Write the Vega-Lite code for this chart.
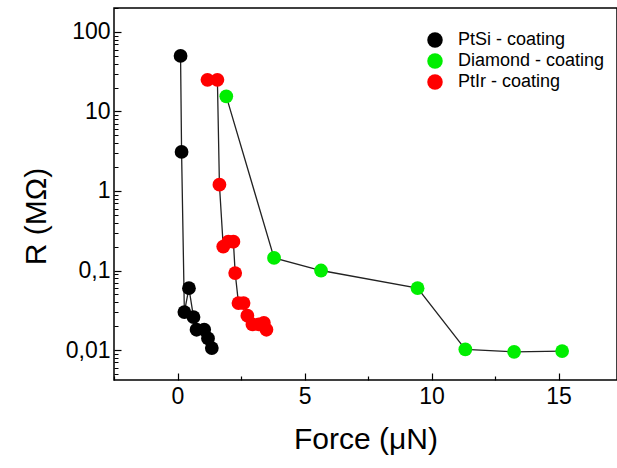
{
  "$schema": "https://vega.github.io/schema/vega-lite/v6.json",
  "width": 503,
  "height": 372,
  "autosize": "none",
  "padding": {"left": 114, "top": 8, "right": 0, "bottom": 88},
  "config": {
    "font": "Liberation Sans",
    "view": {"stroke": "#000000", "strokeWidth": 1.5}
  },
  "data": {"values": [
    {"s": "PtSi - coating", "o": 1, "f": 0.12, "r": 50},
    {"s": "PtSi - coating", "o": 2, "f": 0.16, "r": 3.1},
    {"s": "PtSi - coating", "o": 3, "f": 0.27, "r": 0.03},
    {"s": "PtSi - coating", "o": 4, "f": 0.45, "r": 0.06},
    {"s": "PtSi - coating", "o": 5, "f": 0.63, "r": 0.026},
    {"s": "PtSi - coating", "o": 6, "f": 0.75, "r": 0.018},
    {"s": "PtSi - coating", "o": 7, "f": 1.05, "r": 0.018},
    {"s": "PtSi - coating", "o": 8, "f": 1.2, "r": 0.014},
    {"s": "PtSi - coating", "o": 9, "f": 1.35, "r": 0.0106},
    {"s": "Diamond - coating", "o": 1, "f": 1.92, "r": 15.5},
    {"s": "Diamond - coating", "o": 2, "f": 3.8, "r": 0.144},
    {"s": "Diamond - coating", "o": 3, "f": 5.65, "r": 0.1},
    {"s": "Diamond - coating", "o": 4, "f": 9.45, "r": 0.06},
    {"s": "Diamond - coating", "o": 5, "f": 11.33, "r": 0.0102},
    {"s": "Diamond - coating", "o": 6, "f": 13.25, "r": 0.0095},
    {"s": "Diamond - coating", "o": 7, "f": 15.14, "r": 0.0097},
    {"s": "PtIr - coating", "o": 1, "f": 1.18, "r": 25},
    {"s": "PtIr - coating", "o": 2, "f": 1.57, "r": 25},
    {"s": "PtIr - coating", "o": 3, "f": 1.65, "r": 1.2},
    {"s": "PtIr - coating", "o": 4, "f": 1.8, "r": 0.2},
    {"s": "PtIr - coating", "o": 5, "f": 2.0, "r": 0.23},
    {"s": "PtIr - coating", "o": 6, "f": 2.2, "r": 0.23},
    {"s": "PtIr - coating", "o": 7, "f": 2.27, "r": 0.093},
    {"s": "PtIr - coating", "o": 8, "f": 2.4, "r": 0.039},
    {"s": "PtIr - coating", "o": 9, "f": 2.6, "r": 0.039},
    {"s": "PtIr - coating", "o": 10, "f": 2.75, "r": 0.027},
    {"s": "PtIr - coating", "o": 11, "f": 2.95, "r": 0.021},
    {"s": "PtIr - coating", "o": 12, "f": 3.2, "r": 0.021},
    {"s": "PtIr - coating", "o": 13, "f": 3.4, "r": 0.022},
    {"s": "PtIr - coating", "o": 14, "f": 3.5, "r": 0.018}
  ]},
  "layer": [
    {
      "mark": {"type": "point", "opacity": 0},
      "encoding": {
        "x": {"field": "f", "type": "quantitative", "scale": {"domain": [-2.5, 17.3], "nice": false, "zero": false},
          "axis": {"values": [-2.5, 2.5, 7.5, 12.5, 17.5], "labels": false, "title": null, "domain": false, "grid": false, "tickSize": -4, "tickColor": "#000", "tickWidth": 1.2, "orient": "bottom"}},
        "y": {"field": "r", "type": "quantitative", "scale": {"type": "log", "domain": [0.0042, 200], "nice": false},
          "axis": {"values": [0.005,0.006,0.007,0.008,0.009,0.02,0.03,0.04,0.05,0.06,0.07,0.08,0.09,0.2,0.3,0.4,0.5,0.6,0.7,0.8,0.9,2,3,4,5,6,7,8,9,20,30,40,50,60,70,80,90,200],
            "labels": false, "title": null, "domain": false, "grid": false, "tickSize": -4, "tickColor": "#000", "tickWidth": 1, "orient": "left"}}
      }
    },
    {
      "mark": {"type": "line", "color": "#222222", "strokeWidth": 1.3},
      "encoding": {
        "x": {"field": "f", "type": "quantitative",
          "axis": {"values": [0, 5, 10, 15], "title": "Force (\u03bcN)", "domain": false, "grid": false, "tickSize": -7, "tickColor": "#000", "tickWidth": 1.2, "labelFontSize": 23, "labelColor": "#000", "labelPadding": 12, "titleFontSize": 30, "titleFontWeight": "normal", "titleColor": "#000", "titlePadding": 16, "orient": "bottom"}},
        "y": {"field": "r", "type": "quantitative",
          "axis": {"values": [0.01, 0.1, 1, 10, 100], "labelExpr": "replace(datum.value >= 1 ? format(datum.value, 'd') : format(datum.value, '~g'), '.', ',')", "title": "R (M\u03a9)", "titleY": 208, "domain": false, "grid": false, "tickSize": -7, "tickColor": "#000", "tickWidth": 1.2, "labelFontSize": 23, "labelColor": "#000", "labelPadding": 11, "titleFontSize": 30, "titleFontWeight": "normal", "titleColor": "#000", "titlePadding": 14, "orient": "left"}},
        "detail": {"field": "s"},
        "order": {"field": "o", "type": "quantitative"}
      }
    },
    {
      "mark": {"type": "circle", "size": 190, "opacity": 1},
      "encoding": {
        "x": {"field": "f", "type": "quantitative", "axis": null},
        "y": {"field": "r", "type": "quantitative", "axis": null},
        "color": {"field": "s", "type": "nominal",
          "scale": {"domain": ["PtSi - coating", "Diamond - coating", "PtIr - coating"], "range": ["#000000", "#00ee00", "#ff0000"]},
          "legend": {"title": null, "orient": "none", "legendX": 312, "legendY": 23, "labelFontSize": 18, "labelColor": "#000", "symbolSize": 240, "symbolType": "circle", "rowPadding": 3, "labelOffset": 14}}
      }
    }
  ],
  "resolve": {"axis": {"x": "independent", "y": "independent"}}
}
